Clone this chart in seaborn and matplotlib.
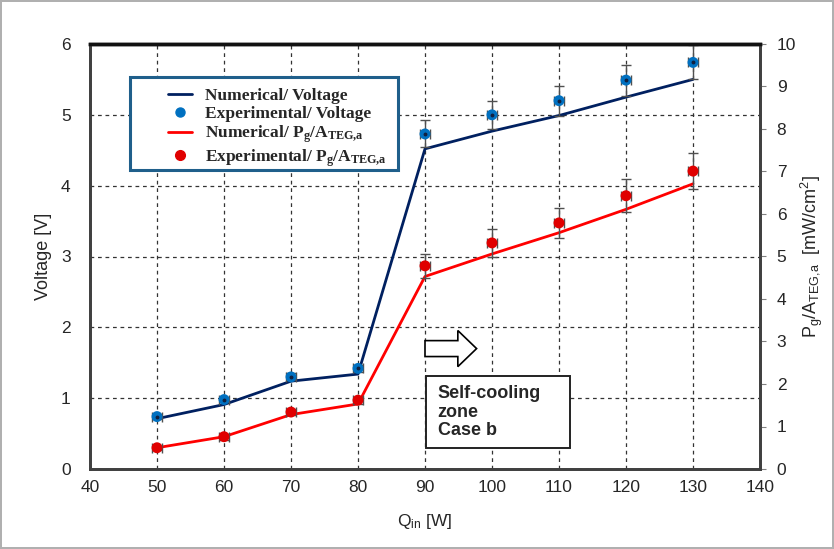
import numpy as np
import pandas as pd
import matplotlib
matplotlib.use("Agg")
import matplotlib.pyplot as plt
import seaborn as sns
from matplotlib.lines import Line2D
from matplotlib.patches import FancyArrow, Rectangle

# ---- data ----
q_in = [50, 60, 70, 80, 90, 100, 110, 120, 130]
volt_num = [0.71, 0.91, 1.24, 1.34, 4.52, 4.77, 4.99, 5.25, 5.50]
volt_exp = [0.74, 0.98, 1.30, 1.42, 4.73, 5.00, 5.20, 5.49, 5.74]
volt_err = [0.03, 0.04, 0.05, 0.05, 0.19, 0.20, 0.21, 0.22, 0.24]
pow_num = [0.50, 0.76, 1.28, 1.53, 4.53, 5.06, 5.56, 6.11, 6.71]
pow_exp = [0.50, 0.76, 1.34, 1.62, 4.78, 5.32, 5.79, 6.43, 7.01]
pow_err = [0.05, 0.07, 0.08, 0.08, 0.29, 0.33, 0.36, 0.39, 0.42]
q_err = 0.8

df = pd.DataFrame({"Q": q_in, "Vn": volt_num, "Ve": volt_exp,
                   "Pn": pow_num, "Pe": pow_exp})

sns.set_style("white")
plt.rcParams["font.family"] = ["Liberation Sans", "DejaVu Sans"]
plt.rcParams["mathtext.default"] = "regular"

navy = "#002060"
blue = "#0070C0"
red = "#FF0000"
red_pt = "#E00000"
spine_c = "#404040"

fig = plt.figure(figsize=(8.34, 5.49), dpi=100)
fig.patch.set_edgecolor("#B0B0B0")
fig.patch.set_linewidth(1.5)
ax = fig.add_axes([90 / 834, 1 - 469 / 549, 670 / 834, 425 / 549])
ax2 = ax.twinx()

# grid
ax.set_xlim(40, 140)
ax.set_ylim(0, 6)
ax2.set_ylim(0, 10)
ax.set_xticks(np.arange(40, 141, 10))
ax.set_xticks(np.arange(40, 141, 2), minor=True)
ax.set_yticks(np.arange(0, 7, 1))
ax2.set_yticks(np.arange(0, 11, 1))
ax.grid(True, which="major", linestyle=(0, (3, 3)), color="#333333", linewidth=0.9)
ax2.grid(False)

# voltage
sns.lineplot(data=df, x="Q", y="Vn", ax=ax, color=navy, linewidth=2, zorder=3)
ax.errorbar(q_in, volt_exp, yerr=volt_err, xerr=q_err, fmt="none",
            ecolor="#505050", elinewidth=1, capsize=3.5, capthick=1, zorder=4)
sns.scatterplot(data=df, x="Q", y="Ve", ax=ax, color=blue, s=62,
                edgecolor="none", zorder=5)

# power
sns.lineplot(data=df, x="Q", y="Pn", ax=ax2, color=red, linewidth=2, zorder=3)
ax2.errorbar(q_in, pow_exp, yerr=pow_err, xerr=q_err, fmt="none",
             ecolor="#505050", elinewidth=1, capsize=3.5, capthick=1, zorder=4)
sns.scatterplot(data=df, x="Q", y="Pe", ax=ax2, color=red_pt, s=62,
                edgecolor="none", zorder=5)

# centre dots on blue markers
ax.plot(q_in, volt_exp, linestyle="none", marker="o", markersize=1.8,
        color="#102040", zorder=6)

# labels
ax.set_xlabel(r"Q$_{in}$ [W]", fontsize=12.5, labelpad=12)
ax.set_ylabel("Voltage [V]", fontsize=13, labelpad=6)
ax2.set_ylabel(r"P$_{g}$/A$_{TEG{,}a}$  [mW/cm$^{2}$]", fontsize=13, labelpad=2)

ax.tick_params(axis="x", which="major", direction="in", length=4,
               labelsize=12.5, pad=8, color=spine_c)
ax.tick_params(axis="x", which="minor", direction="in", length=3, color="#808080")
ax.tick_params(axis="y", direction="in", length=0, labelsize=12.5, pad=14)
ax2.tick_params(axis="y", direction="out", length=4, labelsize=12.5, pad=8,
                color="#808080")
ax.tick_params(axis="x", top=False)

for a in (ax, ax2):
    for side in ("left", "right", "bottom"):
        a.spines[side].set_color(spine_c)
        a.spines[side].set_linewidth(2)
    a.spines["top"].set_color("#111111")
    a.spines["top"].set_linewidth(2.5)

# legend frame (drawn separately to match the reference proportions)
frame = Rectangle((130 / 834, 1 - 170 / 549), 268 / 834, 93 / 549,
                  transform=fig.transFigure, facecolor="white",
                  edgecolor="#1F5F8B", linewidth=2.2, zorder=9)
ax2.add_artist(frame)

handles = [
    Line2D([], [], color=navy, linewidth=2),
    Line2D([], [], linestyle="none", marker="o", markersize=6.5, color=blue),
    Line2D([], [], color=red, linewidth=2),
    Line2D([], [], linestyle="none", marker="o", markersize=7, color=red_pt),
]
labels = [
    "Numerical/ Voltage",
    "Experimental/ Voltage",
    r"Numerical/ P$_{g}$/A$_{TEG{,}a}$",
    r"Experimental/ P$_{g}$/A$_{TEG{,}a}$",
]
leg = ax2.legend(handles, labels, loc="upper left",
                 bbox_to_anchor=((168 - 90) / 670, (469 - 88) / 425),
                 prop={"family": "Liberation Serif", "weight": "bold", "size": 12.5},
                 frameon=False, handlelength=1.4,
                 borderpad=0, labelspacing=0.1, handletextpad=0.75,
                 borderaxespad=0)
leg.set_zorder(10)

# arrow and annotation box
arrow = FancyArrow(90, 1.70, 7.7, 0, width=0.225, head_width=0.51,
                   head_length=2.8, length_includes_head=True,
                   facecolor="white", edgecolor="black", linewidth=1.2, zorder=7)
ax.add_patch(arrow)
box = Rectangle((90.15, 0.303), 21.45, 1.014, facecolor="white",
                edgecolor="#222222", linewidth=1.4, zorder=7)
ax.add_patch(box)
ax.text(91.9, 0.80, "Self-cooling\nzone\nCase b", fontsize=13,
        fontweight="bold", va="center", ha="left", linespacing=1.12, zorder=8)

fig.savefig("out.png", dpi=100)
